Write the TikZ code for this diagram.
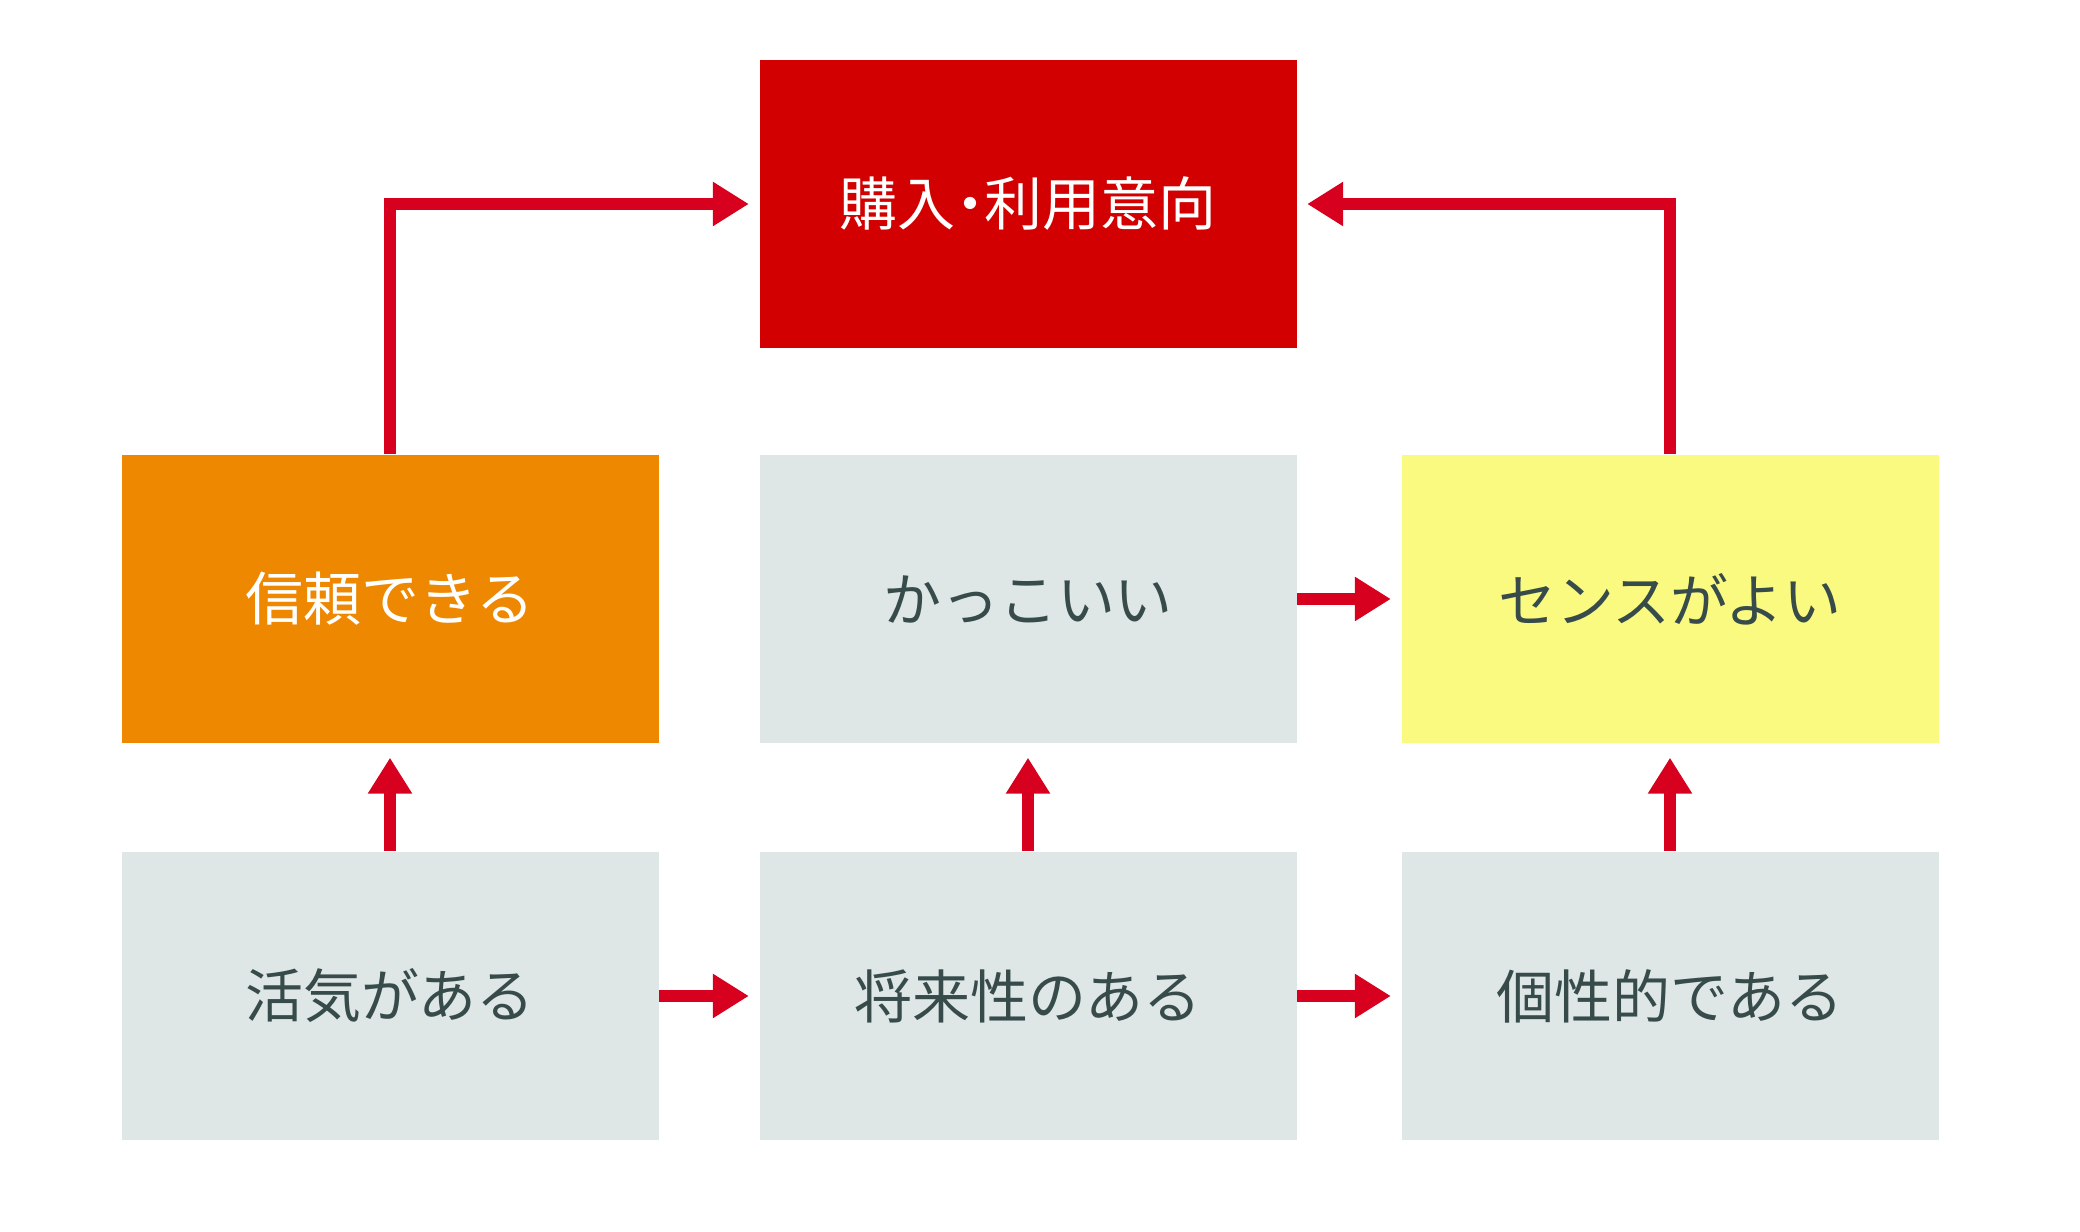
\documentclass[tikz,border=0pt]{standalone}
\usepackage{fontspec}
\setmainfont{Noto Sans CJK JP}
\usetikzlibrary{arrows.meta}
\definecolor{boxred}{RGB}{210,0,0}
\definecolor{boxorange}{RGB}{238,136,0}
\definecolor{boxyellow}{RGB}{250,250,128}
\definecolor{boxgray}{RGB}{222,230,230}
\definecolor{arrowred}{RGB}{215,0,30}
\definecolor{textgray}{RGB}{55,75,75}
\newcommand{\narrowdot}{{\addfontfeature{RawFeature=+halt}・}}

\begin{document}
\begin{tikzpicture}[
  box/.style={minimum width=5.37cm,minimum height=2.88cm,inner sep=0pt,
    font=\fontsize{16.5}{20}\selectfont,text=textgray,fill=boxgray},
  link/.style={draw=arrowred,line width=0.12cm,
    -{Triangle[length=0.36cm,width=0.42cm]},shorten >=0.1cm}]
\useasboundingbox (0,0) rectangle (20.8,12.32);
\node[box,fill=boxred,text=white] (intent) at (10.28,10.28) {購入\narrowdot 利用意向};
\node[box,fill=boxorange,text=white] (trust) at (3.90,6.33) {信頼できる};
\node[box] (cool) at (10.28,6.33) {かっこいい};
\node[box,fill=boxyellow] (sense) at (16.70,6.33) {センスがよい};
\node[box] (lively) at (3.90,2.36) {活気がある};
\node[box] (future) at (10.28,2.36) {将来性のある};
\node[box] (unique) at (16.70,2.36) {個性的である};
\draw[link] (trust.north) |- (intent.west);
\draw[link] (sense.north) |- (intent.east);
\draw[link] (cool.east) -- (sense.west);
\draw[link] (lively.east) -- (future.west);
\draw[link] (future.east) -- (unique.west);
\draw[link,shorten >=0.14cm] (lively.north) -- (trust.south);
\draw[link,shorten >=0.14cm] (future.north) -- (cool.south);
\draw[link,shorten >=0.14cm] (unique.north) -- (sense.south);
\end{tikzpicture}
\end{document}
